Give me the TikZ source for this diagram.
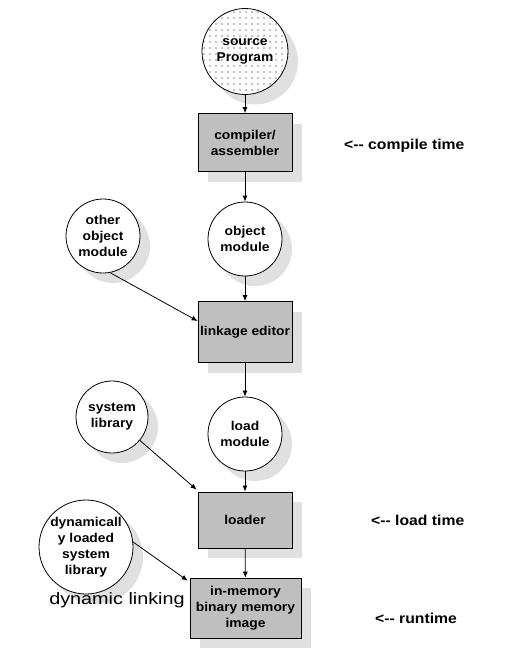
\documentclass[tikz,border=0pt]{standalone}
\usepackage{fontspec}
\setmainfont{Liberation Sans}
\newfontfamily\nodefont[FakeStretch=1.08]{Liberation Sans}
\newfontfamily\labfont[FakeStretch=1.1]{Liberation Sans}
\newfontfamily\widefont[FakeStretch=1.2]{Liberation Sans}
\usetikzlibrary{arrows.meta,shadows,patterns.meta}
\tikzset{
  shad/.style={drop shadow={shadow xshift=10pt, shadow yshift=-10pt, fill=black!12, opacity=1, draw=none}},
  txt/.style={font=\nodefont\bfseries\fontsize{12.8}{16}\selectfont, align=center, text=black},
  circ/.style={circle, draw, line width=0.8pt, fill=white, inner sep=0pt, shad, txt},
  box/.style={rectangle, draw, line width=0.8pt, fill=black!25, inner sep=0pt, shad, txt},
  arr/.style={-{Latex[length=6pt,width=5pt]}, line width=0.8pt},
  lbl/.style={font=\labfont\bfseries\fontsize{14.3}{17}\selectfont, anchor=west, inner sep=0pt},
}
\begin{document}
\begin{tikzpicture}[x=1pt,y=-1pt]
\useasboundingbox (0,0) rectangle (521,648);
% nodes
\node[circ, minimum size=86pt, postaction={pattern={Dots[distance=6pt, radius=0.7pt]}, pattern color=black}] (src) at (245,51.5) {source\\Program};
\node[box, minimum width=94pt, minimum height=58pt] (comp) at (245,142.5) {compiler/\\assembler};
\node[circ, minimum size=74pt] (obj) at (245,239) {object\\module};
\node[circ, minimum size=74pt] (oom) at (103,236) {other\\object\\module};
\node[box, minimum width=94pt, minimum height=61pt] (le) at (245,332) {linkage editor};
\node[circ, minimum size=74pt] (lm) at (245,434) {load\\module};
\node[circ, minimum size=72pt] (sl) at (112,417) {system\\library};
\node[box, minimum width=94pt, minimum height=56pt] (ld) at (245,520) {loader};
\node[box, minimum width=111pt, minimum height=60pt] (img) at (245.5,608) {in-memory\\binary memory\\image};
\node[circ, minimum size=94pt] (dyn) at (86,547) {dynamicall\\y loaded\\system\\library};
\node[font=\widefont\fontsize{16.5}{20}\selectfont, inner sep=0pt] (dl) at (117,600) {dynamic linking};
% labels
\node[lbl] (ct) at (344,146) {<-- compile time};
\node[lbl] (lt) at (371,520) {<-- load time};
\node[lbl] (rt) at (375,618) {<-- runtime};
% connectors
\draw[arr] (src) -- (comp);
\draw[arr] (comp) -- (obj);
\draw[arr] (obj) -- (le);
\draw[arr] (le) -- (lm);
\draw[arr] (lm) -- (ld);
\draw[arr] (ld) -- (img);
\draw[arr] (oom.-79) -- ([yshift=11pt]le.west);
\draw[arr] (sl.-40) -- ([xshift=-1pt,yshift=2pt]ld.north west);
\draw[arr] (dyn.6) -- ([xshift=-2pt,yshift=-3pt]img.north west);
\end{tikzpicture}
\end{document}
